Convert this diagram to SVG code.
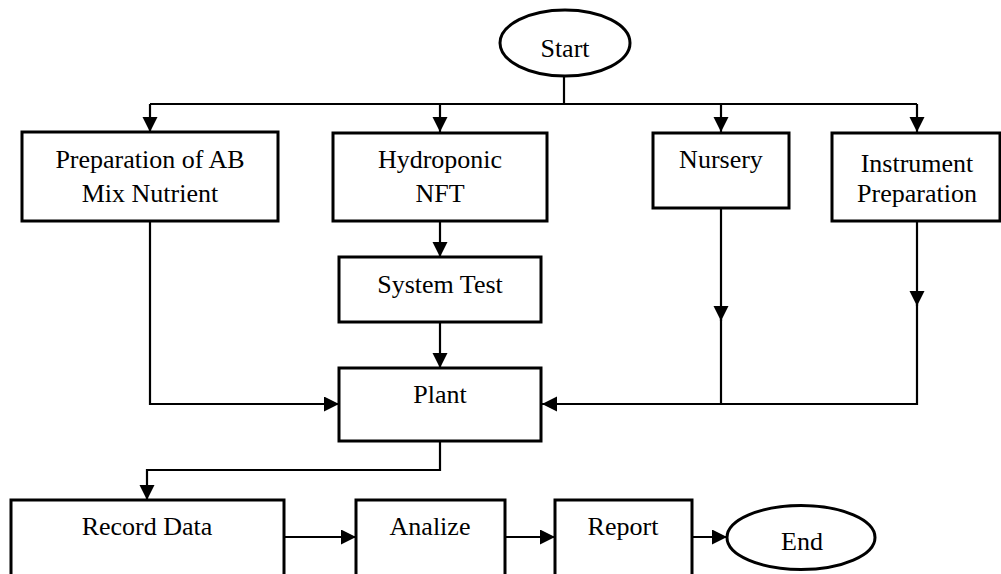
<svg xmlns="http://www.w3.org/2000/svg" width="1001" height="574" viewBox="0 0 1001 574">
<style>
.box{fill:#fff;stroke:#000;stroke-width:3}
.ln{fill:none;stroke:#000;stroke-width:2.2}
.t{font-family:"Liberation Serif","Times New Roman",serif;font-size:26px;fill:#000;text-anchor:middle}
</style>
<defs>
<marker id="ah" markerUnits="userSpaceOnUse" markerWidth="16" markerHeight="16" refX="15" refY="7.5" orient="auto">
<path d="M0,0 L15,7.5 L0,15 z" fill="#000"/>
</marker>
</defs>
<g id="connectors">
<path class="ln" d="M564,76 V104"/>
<path class="ln" d="M150,104 H917"/>
<path class="ln" d="M150,104 V132" marker-end="url(#ah)"/>
<path class="ln" d="M440,104 V132" marker-end="url(#ah)"/>
<path class="ln" d="M721,104 V132" marker-end="url(#ah)"/>
<path class="ln" d="M917,104 V132" marker-end="url(#ah)"/>
<path class="ln" d="M440,221 V257" marker-end="url(#ah)"/>
<path class="ln" d="M440,322 V368" marker-end="url(#ah)"/>
<path class="ln" d="M150,221 V404 H339" marker-end="url(#ah)"/>
<path class="ln" d="M721,208 V321" marker-end="url(#ah)"/>
<path class="ln" d="M721,319 V404"/>
<path class="ln" d="M917,221 V306" marker-end="url(#ah)"/>
<path class="ln" d="M917,304 V404 H542" marker-end="url(#ah)"/>
<path class="ln" d="M440,441 V470 H147 V500" marker-end="url(#ah)"/>
<path class="ln" d="M284,537 H356" marker-end="url(#ah)"/>
<path class="ln" d="M505,537 H555" marker-end="url(#ah)"/>
<path class="ln" d="M692,537 H727" marker-end="url(#ah)"/>
</g>
<g id="start"><ellipse class="box" cx="565" cy="43" rx="65" ry="33"/><text class="t" x="565" y="57">Start</text></g>
<g id="prep-ab"><rect class="box" x="22" y="132" width="256" height="89"/><text class="t" x="150" y="168">Preparation of AB</text><text class="t" x="150" y="202">Mix Nutrient</text></g>
<g id="hydroponic"><rect class="box" x="333" y="133" width="214" height="88"/><text class="t" x="440" y="168">Hydroponic</text><text class="t" x="440" y="202">NFT</text></g>
<g id="nursery"><rect class="box" x="653" y="133" width="136" height="75"/><text class="t" x="721" y="168">Nursery</text></g>
<g id="instrument"><rect class="box" x="832" y="133" width="168" height="88"/><text class="t" x="917" y="172">Instrument</text><text class="t" x="917" y="202">Preparation</text></g>
<g id="system-test"><rect class="box" x="339" y="257" width="202" height="65"/><text class="t" x="440" y="293">System Test</text></g>
<g id="plant"><rect class="box" x="339" y="368" width="202" height="73"/><text class="t" x="440" y="403">Plant</text></g>
<g id="record"><rect class="box" x="11" y="500" width="273" height="90"/><text class="t" x="147" y="535">Record Data</text></g>
<g id="analize"><rect class="box" x="356" y="500" width="149" height="90"/><text class="t" x="430" y="535">Analize</text></g>
<g id="report"><rect class="box" x="555" y="500" width="137" height="90"/><text class="t" x="623" y="535">Report</text></g>
<g id="end"><ellipse class="box" cx="801" cy="537.5" rx="74" ry="32"/><text class="t" x="802" y="550">End</text></g>
</svg>
